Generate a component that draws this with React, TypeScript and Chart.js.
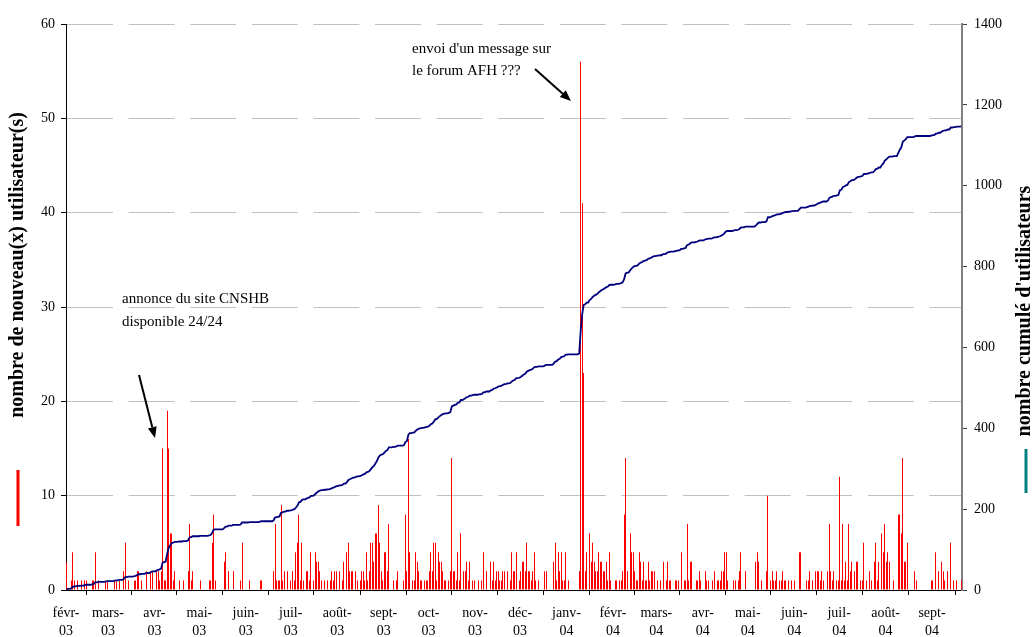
import React, { useEffect, useRef } from 'react';
import { Chart, registerables } from 'chart.js';

Chart.register(...registerables);

// Month tick labels (one per month start)
const monthLabels = [
  'févr-03', 'mars-03', 'avr-03', 'mai-03', 'juin-03', 'juil-03', 'août-03', 'sept-03',
  'oct-03', 'nov-03', 'déc-03', 'janv-04', 'févr-04', 'mars-04', 'avr-04', 'mai-04',
  'juin-04', 'juil-04', 'août-04', 'sept-04',
];

// Daily number of new users, one array per month
const feb03 = [3,0,0,1,4,1,0,1,0,0,1,0,1,1,0,0,0,1,1,4,0,1,0,0,0,0,1,1];
const mar03 = [0,0,0,0,1,1,0,1,0,0,2,5,0,1,0,0,0,1,1,2,2,0,1,0,0,2,0,0,2,2,0];
const apr03 = [0,2,2,1,2,15,1,1,19,15,6,6,1,2,0,0,1,0,0,1,0,0,2,7,1,2,0,0,0,0];
const may03 = [1,0,0,0,0,0,1,1,5,8,1,0,0,0,0,0,3,4,0,2,0,0,2,0,0,0,0,1,5,0,0];
const jun03 = [0,0,1,0,0,0,0,0,0,1,1,0,0,0,0,0,0,0,2,7,1,1,1,9,1,2,0,2,0,1];
const jul03 = [0,2,1,4,5,8,1,5,1,0,2,2,1,4,0,1,4,3,3,2,1,0,1,0,1,0,1,2,1,2,2];
const aug03 = [0,2,0,1,3,0,4,5,2,2,2,0,2,1,0,1,2,2,1,4,1,2,5,5,3,6,6,9,5,2,1];
const sep03 = [4,4,2,7,0,0,1,0,1,2,0,0,0,1,8,2,16,4,0,1,1,4,3,2,1,1,0,1,1,1];
const oct03 = [2,4,2,5,5,1,4,3,3,2,1,1,0,1,2,14,2,2,1,4,1,6,0,2,2,3,1,3,0,1,1];
const nov03 = [0,0,1,0,1,4,0,2,0,0,3,1,3,1,2,2,1,1,2,2,0,2,0,1,4,2,2,4,0,1];
const dec03 = [2,3,3,2,5,2,2,1,2,4,1,0,1,0,0,0,2,2,0,0,0,0,3,5,1,4,2,4,1,1,4];
const jan04 = [0,1,0,0,0,0,0,0,2,56,41,23,2,4,0,6,3,5,3,2,2,4,3,3,2,2,3,1,4,1,0];
const feb04 = [0,1,1,0,1,1,2,8,14,2,0,6,4,4,2,1,1,4,3,1,3,1,1,3,1,2,2,2,0];
const mar04 = [1,0,1,0,3,0,1,3,1,1,0,0,1,1,1,0,4,0,1,1,7,1,3,3,0,0,1,1,2,1,0];
const apr04 = [0,2,1,1,0,0,1,2,0,1,1,1,2,2,4,4,1,0,0,0,1,1,0,1,2,4,0,0,2,0];
const may04 = [0,0,0,0,0,3,4,3,0,1,0,0,2,10,0,1,2,1,1,2,0,1,1,2,1,1,0,1,0,1,0];
const jun04 = [1,0,0,4,4,0,0,0,1,1,2,0,1,0,2,2,2,1,2,1,0,0,2,7,2,1,2,0,1,1];
const jul04 = [12,1,7,1,3,1,7,2,3,0,2,3,3,0,1,1,5,0,1,0,2,1,0,3,5,1,3,0,6,4,7];
const aug04 = [3,4,3,0,0,1,0,0,8,8,6,14,3,3,5,0,0,0,0,2,1,0,0,0,0,0,0,0,0,0,1];
const sep04 = [1,0,4,0,2,0,3,2,1,0,2,0,5,0,1,0,1,0,0,1];

const monthlyDaily = [
  feb03, mar03, apr03, may03, jun03, jul03, aug03, sep03, oct03, nov03,
  dec03, jan04, feb04, mar04, apr04, may04, jun04, jul04, aug04, sep04,
];

const leftMax = 60;
const leftStep = 10;
const rightMax = 1400;
const rightStep = 200;

const leftTitle = 'nombre de nouveau(x) utilisateur(s)';
const rightTitle = "nombre cumulé d'utilisateurs";
const note1 = ['annonce du site CNSHB', 'disponible 24/24'];
const note2 = ["envoi d'un message sur", 'le forum AFH ???'];

const SERIF = '"Liberation Serif", "Times New Roman", serif';

function arrow(ctx: CanvasRenderingContext2D, x1: number, y1: number, x2: number, y2: number) {
  const ang = Math.atan2(y2 - y1, x2 - x1);
  const head = 11;
  const half = 4.5;
  const bx = x2 - head * Math.cos(ang);
  const by = y2 - head * Math.sin(ang);
  ctx.beginPath();
  ctx.moveTo(x1, y1);
  ctx.lineTo(bx, by);
  ctx.lineWidth = 2;
  ctx.strokeStyle = '#000';
  ctx.stroke();
  ctx.beginPath();
  ctx.moveTo(x2, y2);
  ctx.lineTo(bx + half * Math.sin(ang), by - half * Math.cos(ang));
  ctx.lineTo(bx - half * Math.sin(ang), by + half * Math.cos(ang));
  ctx.closePath();
  ctx.fillStyle = '#000';
  ctx.fill();
}

// snap the thin daily bars onto whole pixels so they stay pure red
const crispBars = {
  id: 'crispBars',
  beforeDatasetsDraw(chart: any) {
    chart.data.datasets.forEach((ds: any, i: number) => {
      if (ds.type !== 'bar') return;
      const meta = chart.getDatasetMeta(i);
      meta.data.forEach((el: any) => {
        el.x = Math.floor(el.x) + 0.5;
        el.width = 1;
      });
    });
  },
};

const decorPlugin = {
  id: 'decor',
  afterDraw(chart: any) {
    const ctx: CanvasRenderingContext2D = chart.ctx;
    ctx.save();
    ctx.font = `bold 20px ${SERIF}`;
    ctx.fillStyle = '#000';
    ctx.textAlign = 'center';
    ctx.textBaseline = 'middle';
    ctx.save();
    ctx.translate(18, 265);
    ctx.rotate(-Math.PI / 2);
    ctx.fillText(leftTitle, 0, 0);
    ctx.restore();
    ctx.save();
    ctx.translate(1025, 311);
    ctx.rotate(-Math.PI / 2);
    ctx.fillText(rightTitle, 0, 0);
    ctx.restore();
    ctx.fillStyle = '#ff0000';
    ctx.fillRect(16.5, 470, 3, 56);
    ctx.fillStyle = '#008080';
    ctx.fillRect(1024.5, 449, 3, 44);
    ctx.font = `15px ${SERIF}`;
    ctx.fillStyle = '#000';
    ctx.textAlign = 'left';
    ctx.textBaseline = 'middle';
    ctx.fillText(note1[0], 122, 299);
    ctx.fillText(note1[1], 122, 322);
    ctx.fillText(note2[0], 412, 49);
    ctx.fillText(note2[1], 412, 71);
    arrow(ctx, 139, 375, 155, 438);
    arrow(ctx, 535, 69, 571, 101);
    ctx.restore();
  },
};

export default function App() {
  const ref = useRef<HTMLCanvasElement>(null);

  useEffect(() => {
    const daily = monthlyDaily.flat();
    const N = daily.length;
    const monthStarts: number[] = [];
    let acc = 0;
    for (const m of monthlyDaily) {
      monthStarts.push(acc);
      acc += m.length;
    }
    let run = 0;
    const cumulative = daily.map((v) => (run += v));

    const font = { family: SERIF, size: 14 };

    const chart = new Chart(ref.current as HTMLCanvasElement, {
      type: 'bar',
      data: {
        datasets: [
          {
            type: 'line',
            label: "nombre cumulé d'utilisateurs",
            data: cumulative.map((v, i) => ({ x: i, y: v })),
            yAxisID: 'y1',
            borderColor: '#00007f',
            borderWidth: 1.8,
            pointRadius: 0,
            tension: 0,
            order: 0,
          } as any,
          {
            type: 'bar',
            label: 'nombre de nouveau(x) utilisateur(s)',
            data: daily.map((v, i) => ({ x: i, y: v })),
            yAxisID: 'y',
            backgroundColor: '#ff0000',
            borderWidth: 0,
            inflateAmount: 0,
            barPercentage: 0.75,
            categoryPercentage: 1,
            order: 1,
          } as any,
        ],
      },
      options: {
        animation: false,
        responsive: false,
        maintainAspectRatio: false,
        layout: { padding: { top: 24, left: 0, right: 0, bottom: 0 } },
        plugins: { legend: { display: false }, tooltip: { enabled: false } },
        scales: {
          x: {
            type: 'linear',
            min: -0.5,
            max: N - 0.5,
            bounds: 'data',
            offset: false,
            afterBuildTicks: (s: any) => {
              s.ticks = monthStarts.map((d) => ({ value: d - 0.5 }));
            },
            ticks: {
              autoSkip: false,
              maxRotation: 0,
              minRotation: 0,
              font: { ...font, lineHeight: 1.3 },
              color: '#000',
              padding: 9,
              callback: (_v: any, i: number) => {
                const [m, y] = monthLabels[i].split('-');
                return [m + '-', y];
              },
            },
            grid: { drawOnChartArea: false, drawTicks: true, tickLength: 5, color: '#000' },
            border: { display: true, color: '#000', width: 1 },
            afterFit: (s: any) => {
              s.height = 47;
            },
          },
          y: {
            position: 'left',
            min: 0,
            max: leftMax,
            ticks: { stepSize: leftStep, font, color: '#000', padding: 6 },
            grid: {
              color: (c: any) => (c.tick && c.tick.value === 0 ? 'rgba(0,0,0,0)' : '#c0c0c0'),
              lineWidth: 1,
              drawTicks: true,
              tickLength: 5,
              tickColor: '#000',
            },
            border: { display: true, color: '#000', width: 1, dash: [46, 15.6] },
            afterFit: (s: any) => {
              s.width = 66;
            },
          },
          y1: {
            position: 'right',
            min: 0,
            max: rightMax,
            ticks: {
              stepSize: rightStep,
              font,
              color: '#000',
              padding: 7,
              callback: (v: any) => String(v),
            },
            grid: { drawOnChartArea: false, drawTicks: true, tickLength: 5, color: '#404040' },
            border: { display: true, color: '#808080', width: 2 },
            afterFit: (s: any) => {
              s.width = 71;
            },
          },
        },
      } as any,
      plugins: [crispBars, decorPlugin],
    });
    return () => chart.destroy();
  }, []);

  return (
    <div style={{ position: 'fixed', left: 0, top: 0, width: 1033, height: 637, background: '#fff' }}>
      <canvas ref={ref} width={1033} height={637} style={{ display: 'block', width: 1033, height: 637 }} />
    </div>
  );
}
